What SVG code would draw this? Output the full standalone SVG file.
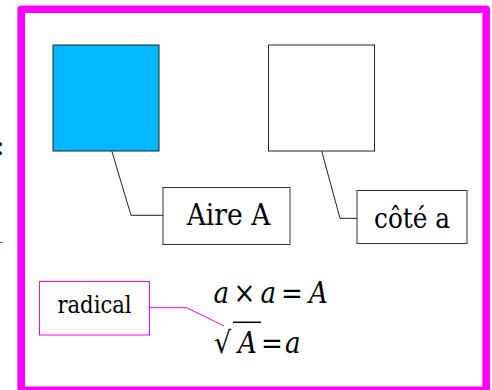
<svg xmlns="http://www.w3.org/2000/svg" width="492" height="390" viewBox="0 0 492 390">
<style>
.box{fill:#fff;stroke:#333;stroke-width:1}
.lead{fill:none;stroke:#222;stroke-width:1}
.mlead{fill:none;stroke:#f0f;stroke-width:1}
.lbl{fill:#000;font-family:'DejaVu Serif Condensed','DejaVu Serif',serif;font-stretch:condensed}
.it{font-style:italic}
</style>
<rect width="492" height="390" fill="#fff"/>
<g id="frame">
<rect x="21.2" y="9.2" width="465" height="381.2" fill="none" stroke="#f0f" stroke-width="7.6" stroke-linejoin="round"/>
</g>
<g id="outside">
<text class="lbl" x="-4" y="155" font-size="28">:</text>
<line x1="-5" y1="242.5" x2="3" y2="242.5" stroke="#f0f" stroke-width="1"/>
</g>
<g id="connectors">
<polyline class="lead" points="97.7,104 131,215.3 163,215.3"/>
<polyline class="lead" points="321.7,151 340,218.3 357,218.3"/>
<polyline class="mlead" points="149,307.7 186.7,307.7 224,326"/>
</g>
<g id="blue-square">
<rect x="53" y="45" width="106" height="106" fill="#00b8ff" stroke="#222" stroke-width="1"/>
</g>
<g id="white-square">
<rect x="268.5" y="45" width="106" height="106" fill="#fff" stroke="#222" stroke-width="1"/>
</g>
<g id="aire">
<rect class="box" x="163" y="187.5" width="127" height="57"/>
<text class="lbl" x="228.5" y="225" font-size="29.5" text-anchor="middle">Aire A</text>
</g>
<g id="cote">
<rect class="box" x="357" y="190.5" width="110" height="53"/>
<text class="lbl" x="412" y="228" font-size="27.5" text-anchor="middle">côté a</text>
</g>
<g id="radical">
<rect x="39.5" y="281.5" width="110" height="53.5" fill="#fff" stroke="#f0f" stroke-width="1"/>
<text class="lbl" x="94.5" y="312.5" font-size="23.5" text-anchor="middle">radical</text>
</g>
<g id="formula">
<text class="lbl" y="303.3" font-size="29"><tspan class="it" x="213.5">a</tspan><tspan x="233.5">×</tspan><tspan class="it" x="260.5">a</tspan><tspan x="281">=</tspan><tspan class="it" x="309">A</tspan></text>
<text class="lbl" x="214" y="352.7" font-size="30">√</text>
<line x1="233" y1="322.3" x2="261" y2="322.3" stroke="#000" stroke-width="1.5"/>
<text class="lbl" y="352.7" font-size="29"><tspan class="it" x="238">A</tspan><tspan x="261">=</tspan><tspan class="it" x="285">a</tspan></text>
</g>
</svg>
